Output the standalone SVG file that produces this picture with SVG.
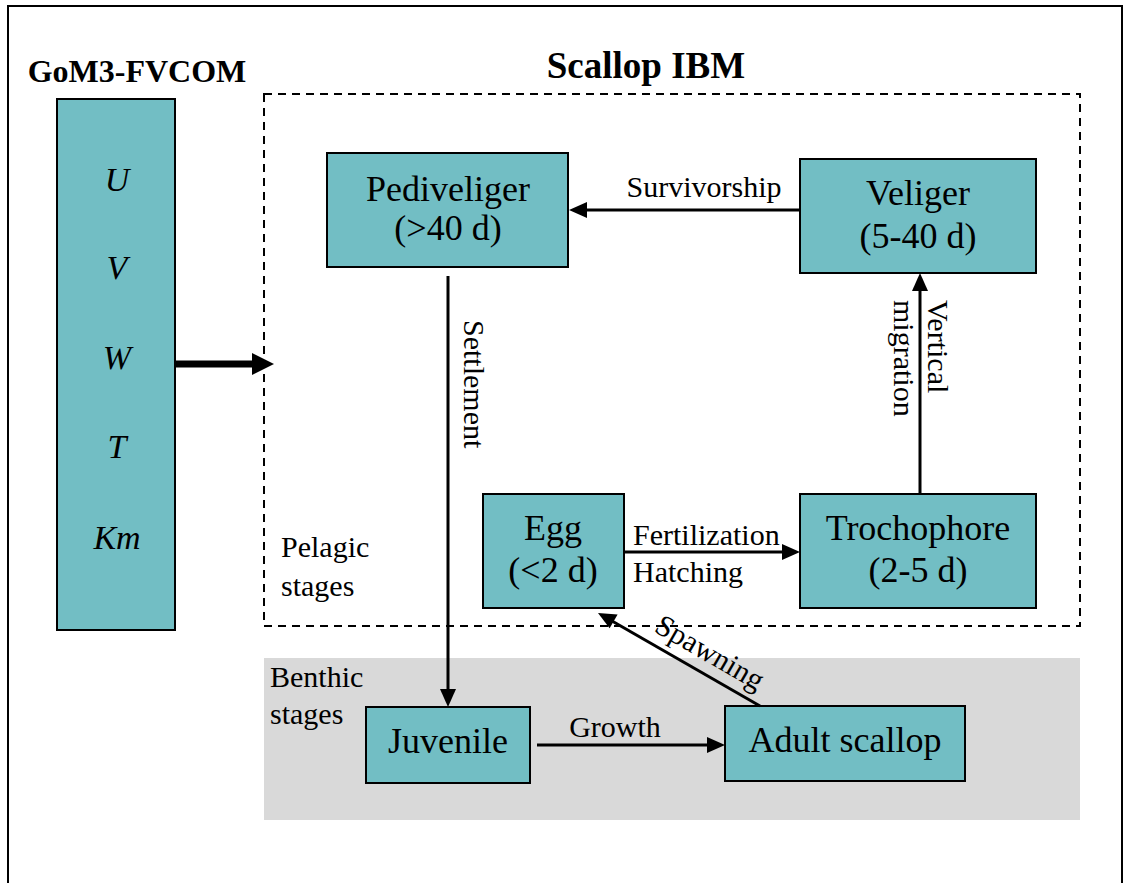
<svg xmlns="http://www.w3.org/2000/svg" width="1128" height="883" viewBox="0 0 1128 883">
  <style>
    .box { fill: #72bec4; stroke: #000; stroke-width: 2; }
    .bt { font-family: "Liberation Serif", "Times New Roman", serif; font-size: 36px; text-anchor: middle; fill: #000; }
    .lbl { font-family: "Liberation Serif", "Times New Roman", serif; font-size: 30px; fill: #000; }
    .var { font-family: "Liberation Serif", "Times New Roman", serif; font-size: 34px; font-style: italic; text-anchor: middle; fill: #000; }
    .title { font-family: "Liberation Serif", "Times New Roman", serif; font-weight: bold; text-anchor: middle; fill: #000; }
    .edge { stroke: #000; stroke-width: 3; fill: none; }
    .head { fill: #000; }
  </style>

  <!-- frame -->
  <rect x="8" y="6" width="1114" height="900" fill="#fff" stroke="#000" stroke-width="2"/>

  <!-- benthic zone background -->
  <rect x="264" y="658" width="816" height="162" fill="#d9d9d9"/>

  <!-- pelagic zone outline -->
  <rect x="264" y="94" width="816" height="532" fill="none" stroke="#000" stroke-width="2" stroke-dasharray="8,6"/>

  <!-- titles -->
  <text class="title" x="137" y="82" font-size="32">GoM3-FVCOM</text>
  <text class="title" x="646" y="78" font-size="37">Scallop IBM</text>

  <!-- zone labels -->
  <text class="lbl" x="281" y="557">Pelagic</text>
  <text class="lbl" x="281" y="596">stages</text>
  <text class="lbl" x="270" y="687">Benthic</text>
  <text class="lbl" x="270" y="724">stages</text>

  <!-- model forcing column -->
  <g id="gom3">
    <rect class="box" x="57" y="99" width="118" height="531"/>
    <text class="var" x="117" y="191">U</text>
    <text class="var" x="117" y="279">V</text>
    <text class="var" x="117" y="369">W</text>
    <text class="var" x="117" y="458">T</text>
    <text class="var" x="117" y="549">Km</text>
  </g>

  <g id="pediveliger">
    <rect class="box" x="327" y="153" width="241" height="114"/>
    <text class="bt" x="448" y="201">Pediveliger</text>
    <text class="bt" x="448" y="240">(&gt;40 d)</text>
  </g>

  <g id="veliger">
    <rect class="box" x="800" y="159" width="236" height="114"/>
    <text class="bt" x="918" y="205">Veliger</text>
    <text class="bt" x="918" y="248">(5-40 d)</text>
  </g>

  <g id="egg">
    <rect class="box" x="483" y="494" width="141" height="114"/>
    <text class="bt" x="553" y="540">Egg</text>
    <text class="bt" x="553" y="582">(&lt;2 d)</text>
  </g>

  <g id="trochophore">
    <rect class="box" x="800" y="494" width="236" height="114"/>
    <text class="bt" x="918" y="540">Trochophore</text>
    <text class="bt" x="918" y="582">(2-5 d)</text>
  </g>

  <g id="juvenile">
    <rect class="box" x="366" y="707" width="164" height="76"/>
    <text class="bt" x="448" y="753">Juvenile</text>
  </g>

  <g id="adult">
    <rect class="box" x="725" y="706" width="240" height="75"/>
    <text class="bt" x="845" y="752">Adult scallop</text>
  </g>

  <!-- connectors -->
  <g id="connectors">
    <line x1="175" y1="364" x2="254" y2="364" stroke="#000" stroke-width="7"/>
    <path class="head" d="M274,364 L252,353 L252,375 Z"/>
    <line class="edge" x1="800" y1="210" x2="584" y2="210"/>
    <line class="edge" x1="920" y1="494" x2="920" y2="288"/>
    <line class="edge" x1="448" y1="276" x2="448" y2="692"/>
    <line class="edge" x1="624" y1="552" x2="785" y2="552"/>
    <line class="edge" x1="537" y1="745" x2="710" y2="745"/>
    <line class="edge" x1="760" y1="706" x2="612" y2="621"/>
    <!-- arrowheads -->
    <path class="head" d="M569,210 L587,202 L587,218 Z"/>
    <path class="head" d="M920,273 L912,291 L928,291 Z"/>
    <path class="head" d="M448,707 L440,689 L456,689 Z"/>
    <path class="head" d="M800,552 L782,544 L782,560 Z"/>
    <path class="head" d="M725,745 L707,737 L707,753 Z"/>
    <path class="head" d="M598,613 L617.6,614.5 L609.6,628.3 Z"/>
  </g>

  <!-- connector labels -->
  <text class="lbl" x="704" y="197" text-anchor="middle">Survivorship</text>
  <text class="lbl" x="633" y="545">Fertilization</text>
  <text class="lbl" x="633" y="582">Hatching</text>
  <text class="lbl" x="615" y="737" text-anchor="middle">Growth</text>
  <text class="lbl" transform="translate(928,300) rotate(90)">Vertical</text>
  <text class="lbl" transform="translate(894,300) rotate(90)">migration</text>
  <text class="lbl" transform="translate(464,320) rotate(90)">Settlement</text>
  <text class="lbl" transform="translate(653,631) rotate(30)">Spawning</text>
</svg>
